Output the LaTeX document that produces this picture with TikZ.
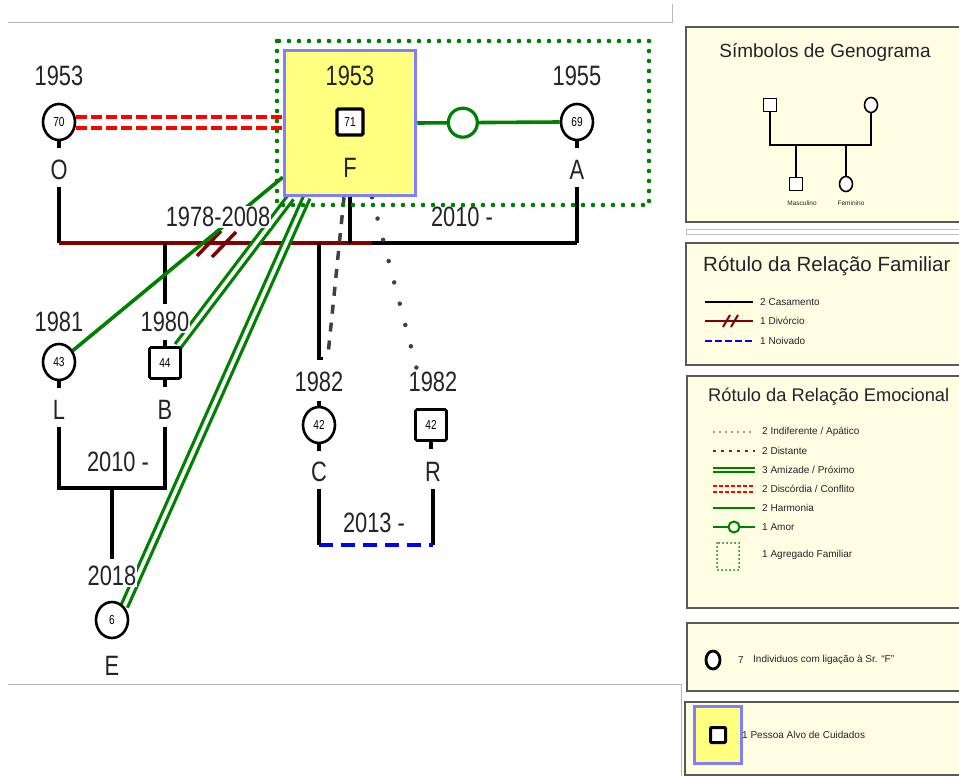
\documentclass[tikz,border=0pt]{standalone}
\usepackage{fontspec}
\setmainfont{Liberation Sans}
\newfontfamily\narrowf[FakeStretch=0.78]{Liberation Sans}
\usetikzlibrary{shapes.geometric}
\pgfdeclarelayer{bg}
\pgfsetlayers{bg,main}
\definecolor{cream}{RGB}{255,254,226}
\definecolor{fyellow}{RGB}{255,255,128}
\definecolor{fblue}{RGB}{128,128,255}
\definecolor{divred}{RGB}{128,0,0}
\definecolor{grn}{RGB}{0,128,0}
\definecolor{txt}{RGB}{35,35,45}
\definecolor{dgray}{RGB}{64,64,64}
\definecolor{nblue}{RGB}{0,0,255}
\tikzset{
 gl/.style={font=\narrowf\fontsize{28}{28}\selectfont, text=txt, inner xsep=1pt, inner ysep=1pt, fill=white},
 glf/.style={gl, fill=none},
 fem/.style={ellipse, draw=black, line width=2.6pt, minimum width=32pt, minimum height=36pt, inner sep=0pt, fill=white, font=\narrowf\fontsize{13}{13}\selectfont},
 mal/.style={rectangle, draw=black, line width=2.8pt, minimum width=31pt, minimum height=31pt, inner sep=0pt, fill=white, rounded corners=1.5pt, font=\narrowf\fontsize{13}{13}\selectfont},
 kin/.style={draw=black, line width=3.2pt},
 divl/.style={draw=divred, line width=4pt},
 harm/.style={draw=grn, line width=3.6pt},
 friend/.style={draw=grn, line width=3.2pt, double=white, double distance=3.6pt},
 conflict/.style={draw=red, line width=4pt, dash pattern=on 11pt off 4pt},
 distant/.style={draw=dgray, line width=3.5pt, dash pattern=on 9pt off 9pt},
 indiff/.style={draw=dgray, line width=4.5pt, line cap=round, dash pattern=on 0pt off 22pt},
 agreg/.style={draw=grn, line width=4.6pt, line cap=round, dash pattern=on 0pt off 10pt},
 noivado/.style={draw=nblue, line width=4pt, dash pattern=on 14pt off 8pt},
 lovec/.style={circle, draw=grn, line width=3.2pt, fill=white, minimum size=29pt, inner sep=0pt},
 panel/.style={fill=cream, draw=black!65, line width=1.6pt},
 ttl/.style={text=txt, inner sep=0pt},
 itm/.style={font=\fontsize{10}{10}\selectfont, text=txt, inner sep=0pt, anchor=west},
 tinyl/.style={font=\fontsize{6.5}{6.5}\selectfont, text=txt, inner sep=0pt},
 symsq/.style={rectangle, draw=black, line width=1.6pt, fill=white, minimum size=13pt, inner sep=0pt},
 symci/.style={ellipse, draw=black, line width=1.6pt, fill=white, minimum width=13pt, minimum height=15pt, inner sep=0pt},
 symln/.style={draw=black, line width=1.8pt},
 grayframe/.style={draw=black!28, line width=1pt},
}
\begin{document}
\begin{tikzpicture}[x=1pt,y=-1pt]
\useasboundingbox (0,0) rectangle (959,776);

% frame lines
\draw[grayframe] (8,23) -- (672,23) -- (672,4);
\draw[grayframe] (8,684) -- (681,684) -- (681,776);

% target person box
\node[draw=fblue, fill=fyellow, line width=3.5pt, minimum width=131pt, minimum height=145pt, inner sep=0pt] (F) at (350,123) {};
\node[glf] (Fyr) at (350,76) {1953};
\node[mal, minimum width=26pt, minimum height=26pt, line width=3.2pt] (Fsq) at (350,122) {71};
\node[glf] (Flbl) at (350,168) {F};

% persons
\node[fem] (O) at (59,122) {70};
\node[fem] (A) at (577,122) {69};
\node[fem] (L) at (59,362) {43};
\node[mal] (B) at (165,363) {44};
\node[fem] (C) at (319,425) {42};
\node[mal] (R) at (431,425) {42};
\node[fem] (E) at (112,620) {6};

% labels
\node[gl] (Oyr) at (59,76) {1953};
\node[gl] (Olbl) at (59,170) {O};
\node[gl] (Ayr) at (577,76) {1955};
\node[gl] (Albl) at (577,170) {A};
\node[gl] (Lyr) at (59,322) {1981};
\node[gl] (Llbl) at (59,410) {L};
\node[gl] (Byr) at (165,322) {1980};
\node[gl] (Blbl) at (165,410) {B};
\node[gl] (Cyr) at (319,382) {1982};
\node[gl] (Clbl) at (319,472) {C};
\node[gl] (Ryr) at (433,382) {1982};
\node[gl] (Rlbl) at (433,472) {R};
\node[gl] (Eyr) at (112,576) {2018};
\node[gl] (Elbl) at (112,666) {E};
\node[gl] (m1) at (218,217) {1978-2008};
\node[gl] (m2) at (462,217) {2010 -};
\node[gl] (m3) at (118,462) {2010 -};
\node[gl] (m4) at (374,523) {2013 -};

% joints
\coordinate (jO) at (59,243);
\coordinate (jA) at (577,243);
\coordinate (jM) at (372,243);
\coordinate (jB) at (165,243);
\coordinate (jC) at (319,243);
\coordinate (lb1) at (59,488);
\coordinate (lb2) at (165,488);
\coordinate (lbE) at (112,488);
\coordinate (cr1) at (319,545);
\coordinate (cr2) at (433,545);

\begin{pgfonlayer}{bg}
\fill[white] (0,0) rectangle (959,776);
% family lines
\draw[kin] (Olbl.south) ++(0,6) -- (jO);
\draw[kin] (Albl.south) ++(0,6) -- (jA);
\draw[kin] (jM) -- (jA);
\draw[divl] (jO) -- (jM);
\draw[kin] (F.south) -- (F.south |- jO);
\draw[kin] (jB) -- ([yshift=7pt]Byr.north);
\draw[kin] (jC) -- ([yshift=12pt]Cyr.north) -- ++(4,0);
\draw[divl, line width=3.5pt] (197,256) -- (221,231) (212,257) -- (236,232);
\foreach \p in {O,A,L,B,C,R} {\draw[kin] (\p.south) -- ++(0,7);}
\draw[kin] (B.north) -- ++(0,-6);
\draw[kin] (C.north) -- ++(0,-5);
\draw[kin] (Llbl.south) ++(0,6) -- (lb1) -- (lb2) -- ([yshift=-6pt]Blbl.south);
\draw[kin] (lbE) -- ([yshift=6pt]Eyr.north);
\draw[kin] (Clbl.south) ++(0,6) -- (cr1);
\draw[kin] (Rlbl.south) ++(0,6) -- (cr2);
\draw[noivado] (cr1) -- (cr2);
% emotional lines
\path ([yshift=5pt]O.east) coordinate (c1) ([yshift=-6pt]O.east) coordinate (c2);
\draw[conflict] (c1) -- (c1 -| F.west);
\draw[conflict] (c2) -- (c2 -| F.west);
\draw[harm] (F.east) -- node[pos=0.32, lovec] (lv) {} (A.west);
\draw[harm] ([yshift=20pt]F.south west) -- (L);
\draw[friend] ([xshift=8pt]F.south west) -- (B);
\draw[friend] ([xshift=24pt]F.south west) -- (E.north east);
\draw[distant] ([xshift=-6pt]F.south) -- ([xshift=9pt,yshift=16pt]Cyr.north);
\draw[indiff] ([xshift=22pt]F.south) -- ([xshift=-4pt]R.north);
\end{pgfonlayer}

% household
\draw[agreg] (277,41) rectangle (649,205);

% ---------- legend panels ----------
\draw[panel] (686,27) rectangle (968,222);
\draw[black!25, line width=0.8pt] (686,229) rectangle (968,234);
\draw[panel] (686,243) rectangle (968,365);
\draw[panel] (687,376) rectangle (968,608);
\draw[panel] (687,623) rectangle (968,691);
\draw[panel] (685,702) rectangle (968,775);

% panel 1
\node[ttl, font=\fontsize{19}{19}\selectfont] (t1) at (825,52) {Símbolos de Genograma};
\node[symsq] (g1) at (770,105) {};
\node[symci] (g2) at (871,105) {};
\node[symsq] (g3) at (796,184) {};
\node[symci] (g4) at (846,184) {};
\coordinate (s1) at (770,145);
\coordinate (s2) at (871,145);
\draw[symln] (g1.south) -- (s1) -- (s2) -- (g2.south);
\draw[symln] (g3.north) -- (g3.north |- s1);
\draw[symln] (g4.north) -- (g4.north |- s1);
\node[tinyl] (g5) at (802,203) {Masculino};
\node[tinyl] (g6) at (851,203) {Feminino};

% panel 2
\node[ttl, anchor=west, font=\fontsize{20.5}{20.5}\selectfont] (t2) at (703,266) {Rótulo da Relação Familiar};
\draw[black, line width=2.5pt] (705,302) -- (753,302);
\node[itm] at (760,302) {2 Casamento};
\draw[divred, line width=2.5pt] (705,321) -- (753,321);
\draw[divred, line width=2pt] (723,327) -- (730,315) (731,327) -- (738,315);
\node[itm] at (760,321) {1 Divórcio};
\draw[nblue, line width=2.5pt, dash pattern=on 7pt off 3pt] (705,341) -- (753,341);
\node[itm] at (760,341) {1 Noivado};

% panel 3
\node[ttl, anchor=west, font=\fontsize{18.3}{18.3}\selectfont] (t3) at (708,397) {Rótulo da Relação Emocional};
\draw[dgray, line width=1.8pt, line cap=round, dash pattern=on 0pt off 6pt] (714,432) -- (755,432);
\node[itm] at (762,432) {2 Indiferente / Apático};
\draw[dgray, line width=1.8pt, dash pattern=on 3pt off 5pt] (713,451) -- (755,451);
\node[itm] at (762,451) {2 Distante};
\draw[grn, line width=1.6pt, double=cream, double distance=2.4pt] (713,470) -- (755,470);
\node[itm] at (762,470) {3 Amizade / Próximo};
\draw[red, line width=2pt, dash pattern=on 4pt off 2pt] (713,486) -- (755,486) (713,492) -- (755,492);
\node[itm] at (762,489) {2 Discórdia / Conflito};
\draw[grn, line width=2pt] (713,508) -- (755,508);
\node[itm] at (762,508) {2 Harmonia};
\draw[grn, line width=2pt] (713,527) -- (755,527);
\node[circle, draw=grn, line width=2pt, fill=cream, minimum size=11pt, inner sep=0pt] at (734,527) {};
\node[itm] at (762,527) {1 Amor};
\draw[grn, line width=2pt, line cap=round, dash pattern=on 0pt off 4pt] (717,543) rectangle (739,570);
\node[itm] at (762,555) {1 Agregado Familiar};

% panel 4
\node[ellipse, draw=black, line width=2.8pt, fill=white, minimum width=14pt, minimum height=18pt, inner sep=0pt] (k1) at (713,660) {};
\node[itm] at (738,660) {7};
\node[itm] at (753,660) {Individuos com ligação à Sr. “F”};

% panel 5
\node[draw=fblue, fill=fyellow, line width=2.5pt, minimum width=47pt, minimum height=57pt, inner sep=0pt] (k2) at (718,735) {};
\node[rectangle, draw=black, line width=3pt, fill=white, minimum size=15pt, inner sep=0pt, rounded corners=1pt] (k3) at (718,735) {};
\node[itm] at (742,735) {1 Pessoa Alvo de Cuidados};
\end{tikzpicture}
\end{document}
